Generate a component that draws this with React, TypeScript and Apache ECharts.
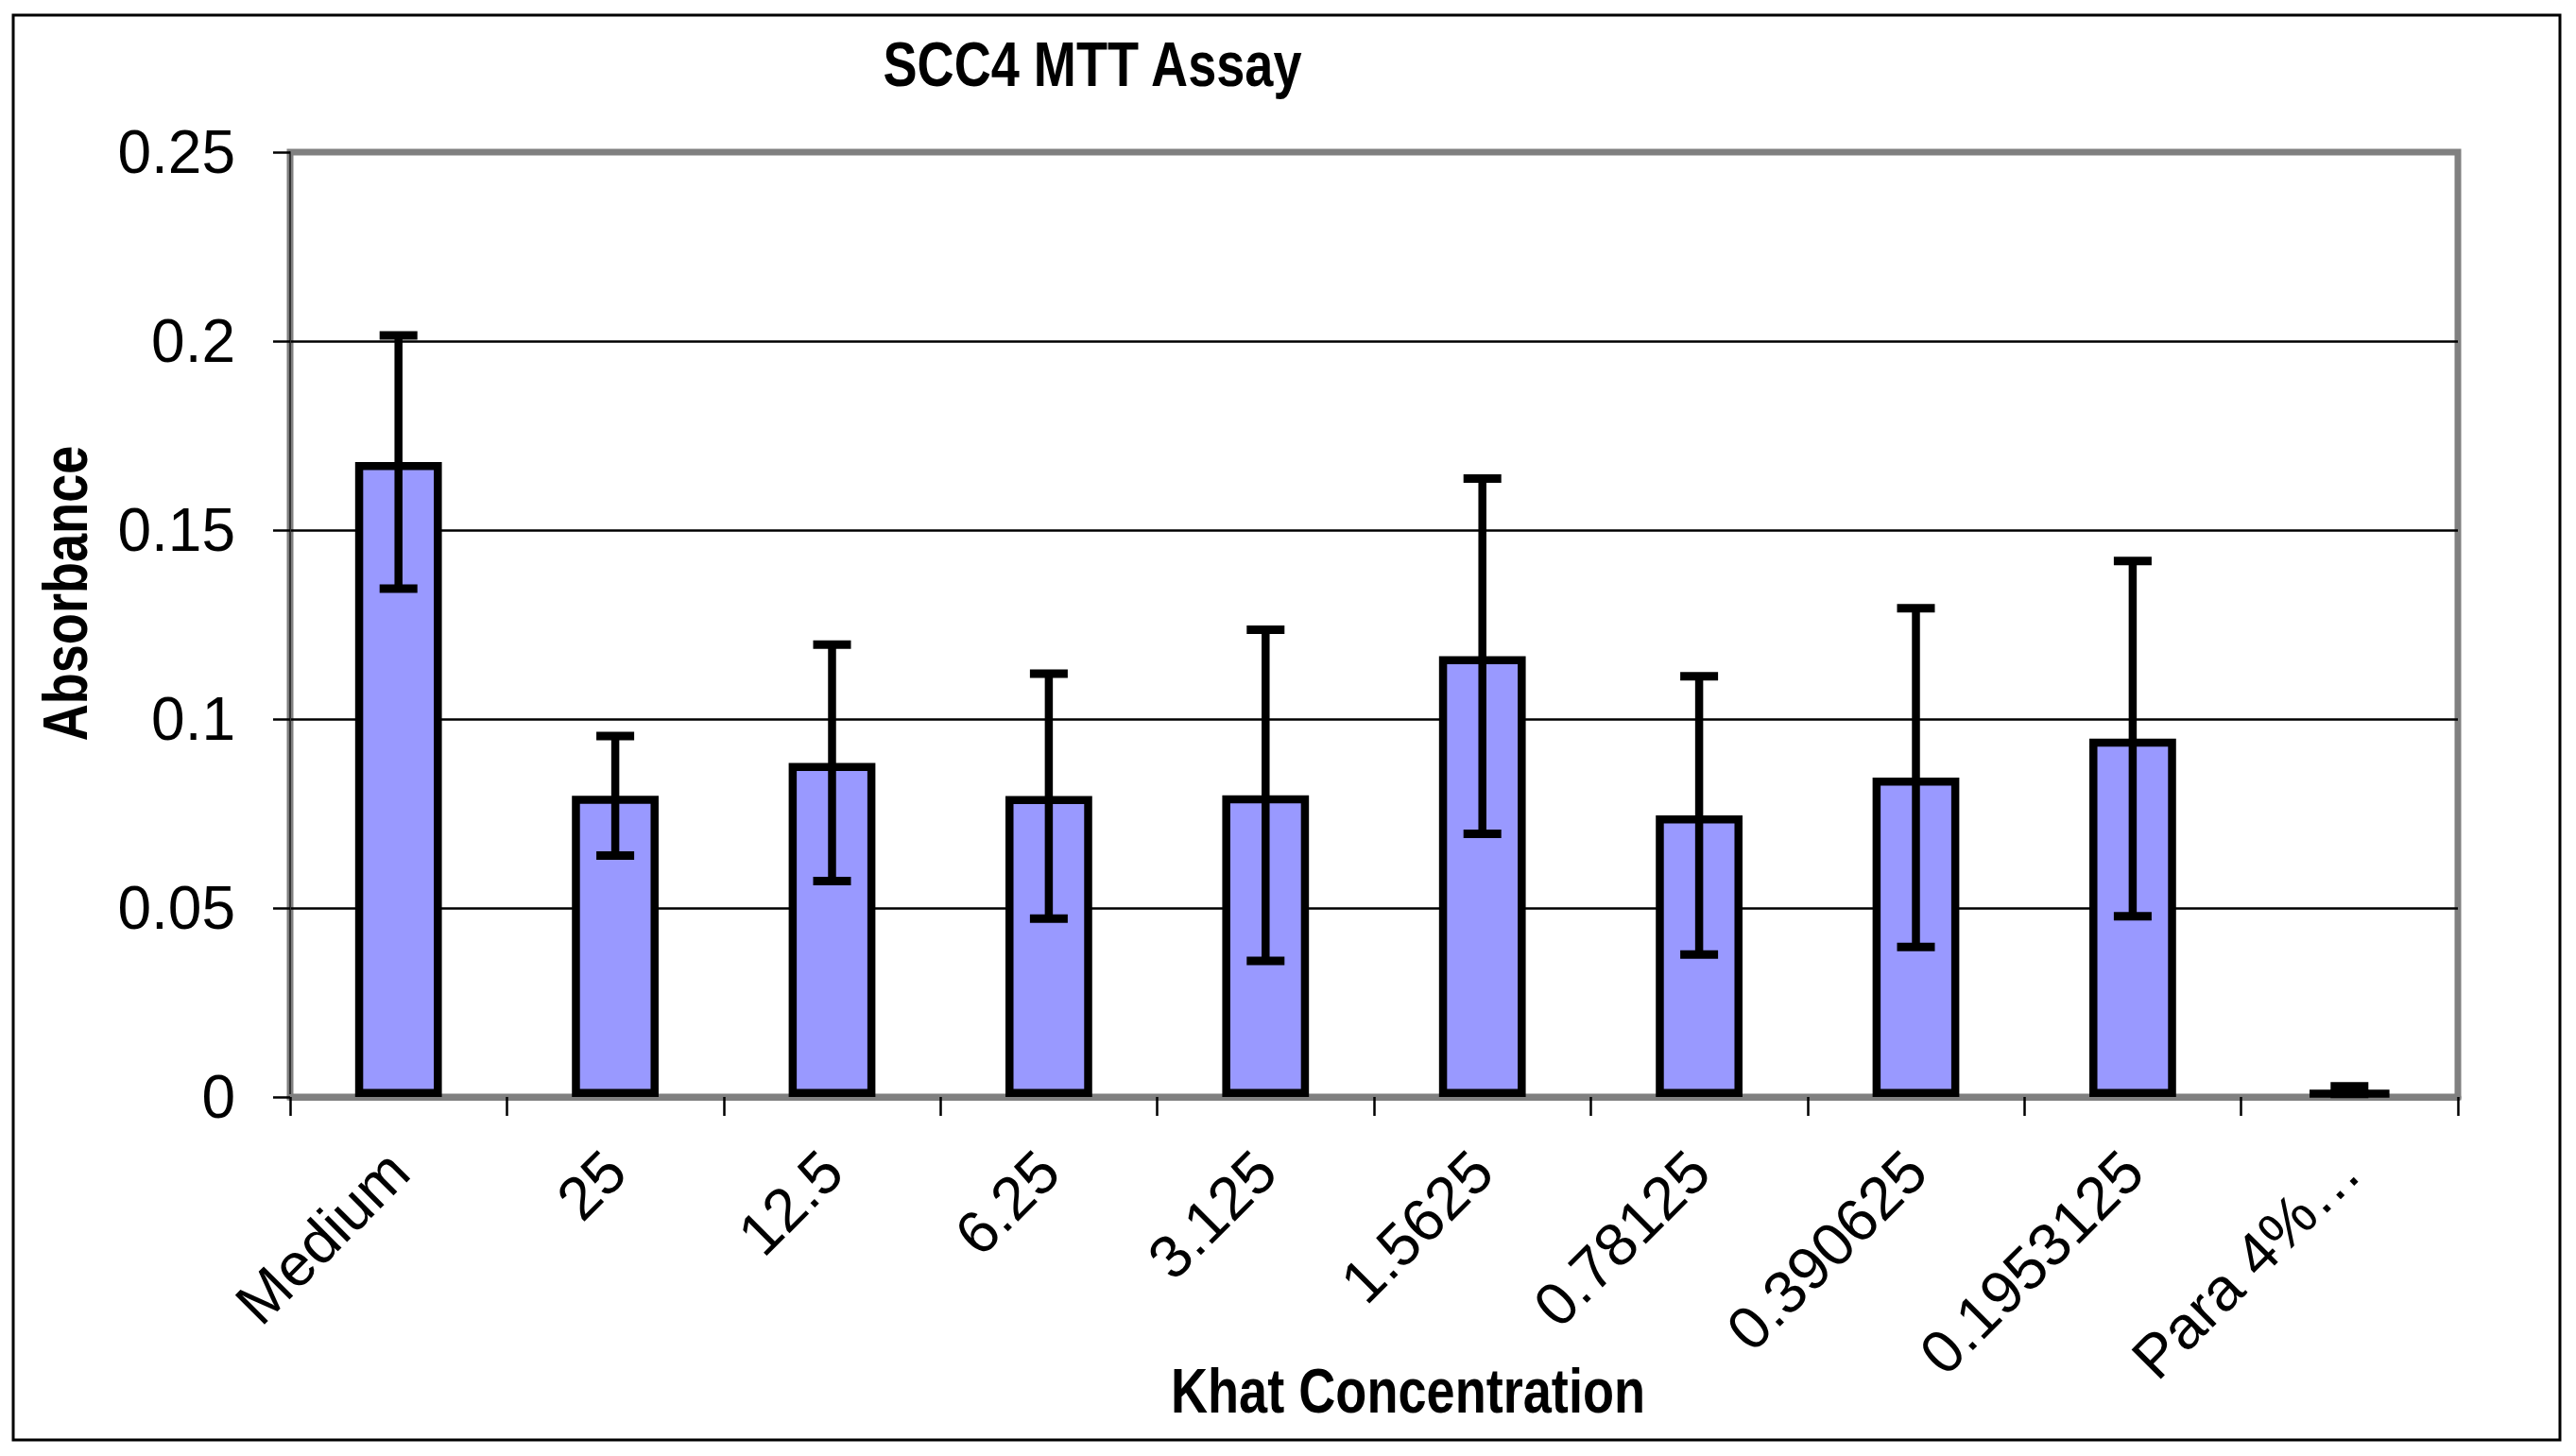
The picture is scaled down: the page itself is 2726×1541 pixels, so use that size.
import React, { useEffect, useRef } from "react";
import * as echarts from "echarts";

const categories = ["Medium", "25", "12.5", "6.25", "3.125", "1.5625", "0.78125", "0.390625", "0.1953125", "Para 4%…"];
const means = [0.168, 0.0797, 0.0884, 0.0796, 0.0798, 0.1166, 0.0745, 0.0845, 0.0948, 0.0018];
const errors = [0.0335, 0.0158, 0.0313, 0.0324, 0.0438, 0.047, 0.0368, 0.0448, 0.047, 0.001];
const yTicks = [0, 0.05, 0.1, 0.15, 0.2, 0.25];

const chartTitle = "SCC4 MTT Assay";
const xName = "Khat Concentration";
const yName = "Absorbance";

const FONT = "'Liberation Sans', Arial, Helvetica, sans-serif";

export default function App() {
  const ref = useRef<HTMLDivElement>(null);
  useEffect(() => {
    if (!ref.current) return;
    const chart = echarts.init(ref.current, null, { renderer: "svg" });
    const errData = means.map((m, i) => [i, m - errors[i], m + errors[i]]);
    const option: any = {
      animation: false,
      backgroundColor: "#ffffff",
      grid: {
        left: 307,
        right: 125,
        top: 161,
        bottom: 380,
        show: true,
        borderColor: "#808080",
        borderWidth: 7,
        backgroundColor: "transparent",
      },
      xAxis: {
        type: "category",
        data: categories,
        boundaryGap: true,
        axisLine: { show: true, lineStyle: { color: "#808080", width: 7 } },
        axisTick: { show: true, length: 20, lineStyle: { color: "#000", width: 2.5 } },
        axisLabel: {
          interval: 0,
          rotate: 45,
          margin: 68,
          fontSize: 64,
          color: "#000",
          fontFamily: FONT,
        },
        splitLine: { show: false },
      },
      yAxis: {
        type: "value",
        min: yTicks[0],
        max: yTicks[yTicks.length - 1],
        interval: yTicks[1] - yTicks[0],
        axisLine: { show: true, lineStyle: { color: "#333", width: 2 } },
        axisTick: { show: true, length: 18, lineStyle: { color: "#000", width: 2.5 } },
        axisLabel: {
          margin: 58,
          fontSize: 64,
          color: "#000",
          fontFamily: FONT,
        },
        splitLine: {
          show: true,
          showMinLine: false,
          showMaxLine: false,
          lineStyle: { color: "#000", width: 2.5 },
        },
      },
      graphic: [
        {
          type: "rect",
          shape: { x: 14, y: 16, width: 2695, height: 1508 },
          style: { fill: "none", stroke: "#000", lineWidth: 3 },
          silent: true,
          z: -1,
        },
        {
          type: "text",
          x: 1156,
          y: 68,
          scaleX: 0.82,
          style: {
            text: chartTitle,
            font: `bold 66px ${FONT}`,
            fill: "#000",
            textAlign: "center",
            textVerticalAlign: "middle",
          },
        },
        {
          type: "text",
          x: 1490,
          y: 1472,
          scaleX: 0.82,
          style: {
            text: xName,
            font: `bold 66px ${FONT}`,
            fill: "#000",
            textAlign: "center",
            textVerticalAlign: "middle",
          },
        },
        {
          type: "text",
          x: 69,
          y: 628,
          rotation: Math.PI / 2,
          scaleX: 0.82,
          style: {
            text: yName,
            font: `bold 66px ${FONT}`,
            fill: "#000",
            textAlign: "center",
            textVerticalAlign: "middle",
          },
        },
      ],
      series: [
        {
          type: "bar",
          data: means,
          barWidth: "40%",
          itemStyle: { color: "#9999FF", borderColor: "#000", borderWidth: 8.5 },
          z: 3,
        },
        {
          type: "custom",
          data: errData,
          z: 5,
          renderItem: (params: any, api: any) => {
            const x = api.value(0);
            const pLo = api.coord([x, api.value(1)]);
            const pHi = api.coord([x, api.value(2)]);
            const half = 20;
            return {
              type: "group",
              children: [
                {
                  type: "line",
                  shape: { x1: pHi[0], y1: pHi[1], x2: pLo[0], y2: pLo[1] },
                  style: { stroke: "#000", lineWidth: 8.5 },
                },
                {
                  type: "line",
                  shape: { x1: pHi[0] - half, y1: pHi[1], x2: pHi[0] + half, y2: pHi[1] },
                  style: { stroke: "#000", lineWidth: 9 },
                },
                {
                  type: "line",
                  shape: { x1: pLo[0] - half, y1: pLo[1], x2: pLo[0] + half, y2: pLo[1] },
                  style: { stroke: "#000", lineWidth: 9 },
                },
              ],
            };
          },
        },
      ],
    };
    chart.setOption(option);
    return () => chart.dispose();
  }, []);
  return (
    <div
      ref={ref}
      style={{ position: "absolute", left: 0, top: 0, width: 2726, height: 1541, background: "#fff" }}
    />
  );
}
